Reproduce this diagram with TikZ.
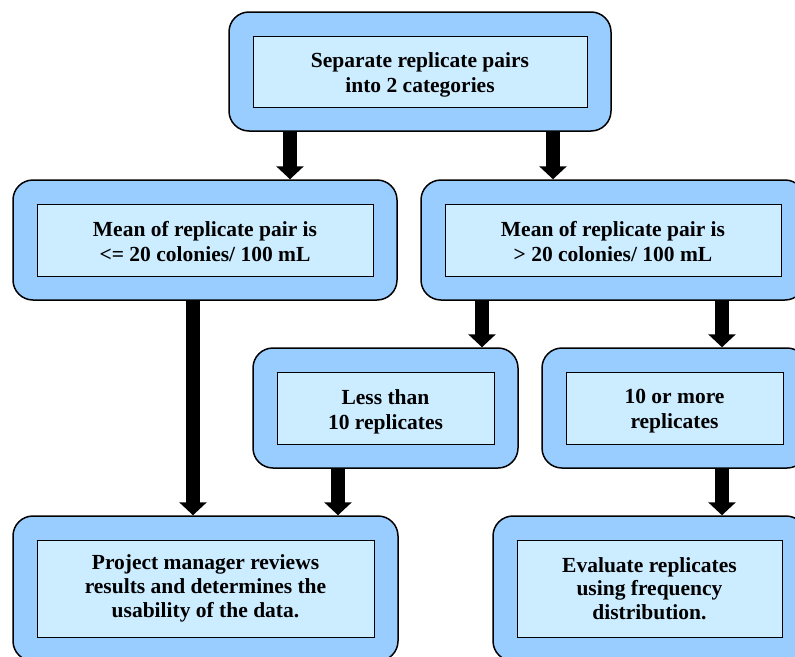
\documentclass[tikz,border=0pt]{standalone}
\usepackage{fontspec}
\setmainfont{Liberation Serif}
\usetikzlibrary{arrows.meta}
\definecolor{outerblue}{HTML}{99CCFF}
\definecolor{innerblue}{HTML}{CCECFF}
\begin{document}
\begin{tikzpicture}[x=1pt,y=-1pt,
  outerbox/.style={draw=black, line width=1.5pt, fill=outerblue, rounded corners=20pt, minimum width=#1, inner sep=0pt},
  innerbox/.style={draw=black, line width=1pt, fill=innerblue, inner sep=0pt, align=center,
    font=\fontsize{21.5}{25}\selectfont\bfseries},
  threeline/.style={font=\fontsize{21.5}{23.7}\selectfont\bfseries},
  bigarrow/.style={line width=14pt, -{Triangle[width=27pt,length=13pt]}}
]
\useasboundingbox (0,0) rectangle (795,656);
\clip (0,0) rectangle (795,656);
% boxes
\node[outerbox=382pt, minimum height=119pt] (top) at (420,71.5) {};
\node[innerbox, minimum width=334pt, minimum height=71pt] (topi) at (top.center) {};
\node (topt) at ([yshift=-3.5pt]topi.center) [align=center, font=\fontsize{21.5}{25}\selectfont\bfseries] {Separate replicate pairs\\into 2 categories};
\node[outerbox=384pt, minimum height=120pt] (l1) at (205,240) {};
\node[innerbox, minimum width=336pt, minimum height=72pt] (l1i) at (l1.center) {};
\node (l1t) at ([yshift=-2pt]l1i.center) [align=center, font=\fontsize{21.5}{25}\selectfont\bfseries] {Mean of replicate pair is\\<= 20 colonies/ 100 mL};
\node[outerbox=384pt, minimum height=120pt] (r1) at (613,240) {};
\node[innerbox, minimum width=336pt, minimum height=72pt] (r1i) at (r1.center) {};
\node (r1t) at ([yshift=-2pt]r1i.center) [align=center, font=\fontsize{21.5}{25}\selectfont\bfseries] {Mean of replicate pair is\\> 20 colonies/ 100 mL};
\node[outerbox=265pt, minimum height=120pt] (less) at (385.5,408) {};
\node[innerbox, minimum width=217pt, minimum height=72pt] (lessi) at (less.center) {};
\node (lesst) at ([yshift=-3.5pt]lessi.center) [align=center, font=\fontsize{21.5}{25}\selectfont\bfseries] {Less than\\10 replicates};
\node[outerbox=265pt, minimum height=120pt] (more) at (674.5,408) {};
\node[innerbox, minimum width=217pt, minimum height=72pt] (morei) at (more.center) {};
\node (moret) at ([yshift=-3.5pt]morei.center) [align=center, font=\fontsize{21.5}{25}\selectfont\bfseries] {10 or more\\replicates};
\node[outerbox=385pt, minimum height=145pt] (bl) at (205.5,588.5) {};
\node[innerbox, threeline, minimum width=337pt, minimum height=97pt] (bli) at (bl.center) {Project manager reviews\\results and determines the\\usability of the data.};
\node[outerbox=313pt, minimum height=145pt] (br) at (649.5,588.5) {};
\node[innerbox, threeline, minimum width=265pt, minimum height=97pt] (bri) at (br.center) {Evaluate replicates\\using frequency\\distribution.};
% arrows
\coordinate (a1) at (290,0);
\coordinate (a2) at (553,0);
\coordinate (a3) at (193,0);
\coordinate (a4) at (482,0);
\coordinate (a5) at (722,0);
\coordinate (a6) at (338,0);
\draw[bigarrow] (top.south -| a1) -- (l1.north -| a1);
\draw[bigarrow] (top.south -| a2) -- (r1.north -| a2);
\draw[bigarrow] (l1.south -| a3) -- (bl.north -| a3);
\draw[bigarrow] (r1.south -| a4) -- (less.north -| a4);
\draw[bigarrow] (r1.south -| a5) -- (more.north -| a5);
\draw[bigarrow] (less.south -| a6) -- (bl.north -| a6);
\draw[bigarrow] (more.south -| a5) -- (br.north -| a5);
\end{tikzpicture}
\end{document}
